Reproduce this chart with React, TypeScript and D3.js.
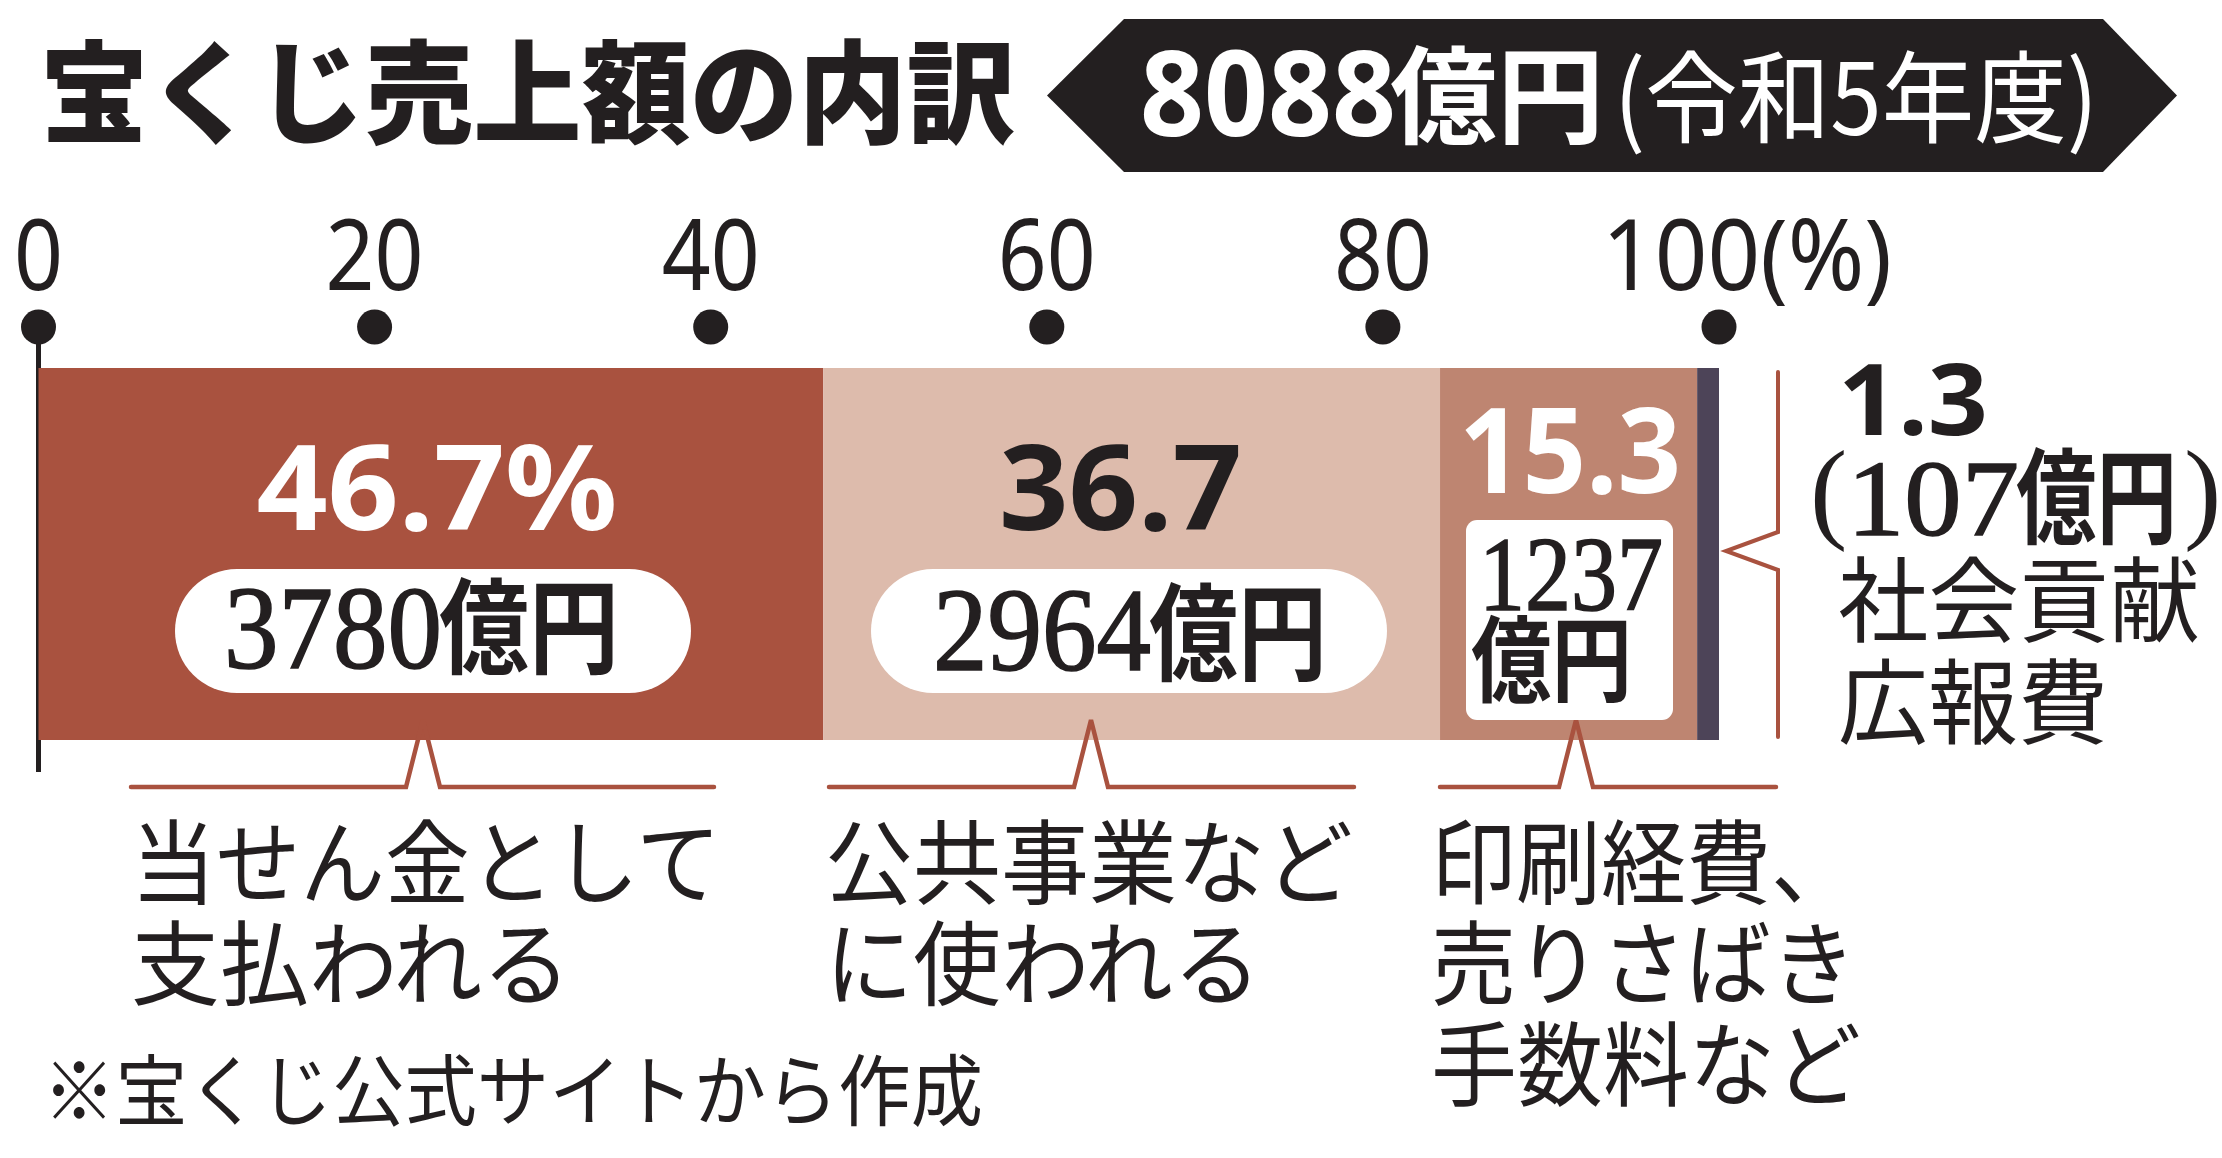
import React from 'react';
import * as d3 from 'd3';

// ---- data ----
const categories = ['当せん金として支払われる', '公共事業などに使われる', '印刷経費、売りさばき手数料など', '社会貢献広報費'];
const shares = [46.7, 36.7, 15.3, 1.3];
const amounts = [3780, 2964, 1237, 107];
const shareLabels = ['46.7%', '36.7', '15.3', '1.3'];
const tickValues = [0, 20, 40, 60, 80, 100];
const tickLabels = ['0', '20', '40', '60', '80', '100(%)'];
const totalAmount = 8088;
const fiscalYear = '令和5年度';
const labelLines = [
  ['当せん金として', '支払われる'],
  ['公共事業など', 'に使われる'],
  ['印刷経費、', '売りさばき', '手数料など'],
  ['社会貢献', '広報費'],
];
const titleText = '宝くじ売上額の内訳';
const sourceNote = '※宝くじ公式サイトから作成';

// ---- styles ----
const segColors = ['#A9523F', '#DDBBAC', '#BE8571', '#4D4458'];
const ACCENT = '#A9523F';
const INK = '#231F20';
const CJK = '"Noto Sans CJK JP", "Noto Sans CJK SC", sans-serif';
const SANS = '"Noto Sans", "Open Sans", sans-serif';
const SERIF = '"Liberation Serif", "DejaVu Serif", serif';

type TP = {
  x: number; y: number; s: number; w?: number; f?: string; fill?: string;
  anchor?: 'start' | 'middle' | 'end'; len?: number; sw?: number; children: React.ReactNode;
};
const T = ({ x, y, s, w = 400, f = CJK, fill = INK, anchor = 'start', len, sw, children }: TP) => (
  <text
    x={x}
    y={y}
    fontSize={s}
    fontWeight={w}
    fontFamily={f}
    fill={fill}
    stroke={sw ? fill : undefined}
    strokeWidth={sw}
    textAnchor={anchor}
    textLength={len}
    lengthAdjust={len ? 'spacingAndGlyphs' : undefined}
  >
    {children}
  </text>
);

export default function App() {
  const W = 2222;
  const H = 1158;
  const x = d3.scaleLinear().domain([0, 100]).range([38.5, 1719]);
  const barTop = 368;
  const barBottom = 740;
  const dotY = 327;

  const starts = d3.cumsum([0, ...shares.slice(0, -1)]);
  const segs = shares.map((v, i) => ({ v, x0: x(starts[i]), x1: x(starts[i] + v), i }));

  // bracket layout (annotation positions)
  const brY = 787;
  const brPeak = 720;
  const brackets = [
    { a: 131, b: 714, n: 423 },
    { a: 829, b: 1354, n: 1091 },
    { a: 1440, b: 1776, n: 1576 },
  ];
  const bracketPath = (a: number, b: number, n: number) =>
    `M${a},${brY} L${n - 17},${brY} L${n},${brPeak} L${n + 17},${brY} L${b},${brY}`;

  const lineX = [131, 825, 1431];
  const lineBase = [897, 998, 1099];
  const lineLen = [
    [590, 440],
    [528, 436],
    [425, 425, 430],
  ];

  const fmt = (n: number) => `${n}`;

  return (
    <svg
      width={W}
      height={H}
      viewBox={`0 0 ${W} ${H}`}
      style={{ position: 'absolute', left: 0, top: 0, display: 'block', background: '#fff' }}
    >
      <rect x={0} y={0} width={W} height={H} fill="#fff" />

      {/* title */}
      <T x={40} y={135} s={112} w={900} len={975}>{titleText}</T>

      {/* banner */}
      <path d="M1047,95.5 L1124,19 L2103,19 L2177,95.5 L2103,172 L1124,172 Z" fill={INK} />
      <T x={1140} y={136} s={118} w={700} f={SANS} fill="#fff" len={256}>{fmt(totalAmount)}</T>
      <T x={1390} y={135} s={106} w={700} fill="#fff" len={214}>億円</T>
      <T x={1614} y={135} s={100} w={400} fill="#fff" len={484}>{`(${fiscalYear})`}</T>

      {/* axis ticks */}
      {tickValues.map((t) => (
        <circle key={`d${t}`} cx={x(t)} cy={dotY} r={17.5} fill={INK} />
      ))}
      {tickValues.map((t, i) =>
        i === tickValues.length - 1 ? (
          <T key={`t${t}`} x={1602} y={290} s={98} f={SANS} len={290}>{tickLabels[i]}</T>
        ) : (
          <T key={`t${t}`} x={x(t)} y={290} s={98} f={SANS} anchor="middle" len={tickLabels[i].length * 49}>
            {tickLabels[i]}
          </T>
        )
      )}
      <line x1={x(0)} x2={x(0)} y1={dotY} y2={772} stroke={INK} strokeWidth={5} />

      {/* bars */}
      {segs.map((s) => (
        <rect key={s.i} x={s.x0} y={barTop} width={s.x1 - s.x0} height={barBottom - barTop} fill={segColors[s.i]} />
      ))}

      {/* bottom brackets */}
      {brackets.map((b, i) => (
        <path
          key={`b${i}`}
          d={bracketPath(b.a, b.b, b.n)}
          fill="none"
          stroke={ACCENT}
          strokeWidth={4.5}
          strokeLinecap="round"
          strokeLinejoin="miter"
        />
      ))}

      {/* segment 1 */}
      <T x={(segs[0].x0 + segs[0].x1) / 2 + 6} y={530} s={119} w={700} f={SANS} fill="#fff" anchor="middle" len={361}>
        {shareLabels[0]}
      </T>
      <rect x={175} y={569} width={516} height={124} rx={62} fill="#fff" />
      <T x={224} y={668} s={118} f={SERIF} len={218} sw={1.6}>{fmt(amounts[0])}</T>
      <T x={439} y={666} s={104} w={700} len={180}>億円</T>

      {/* segment 2 */}
      <T x={1120.5} y={530} s={119} w={700} f={SANS} anchor="middle" len={243}>
        {shareLabels[1]}
      </T>
      <rect x={871} y={569} width={516} height={124} rx={62} fill="#fff" />
      <T x={933} y={670} s={118} f={SERIF} len={218} sw={1.6}>{fmt(amounts[1])}</T>
      <T x={1149} y={672} s={106} w={700} len={178}>億円</T>

      {/* segment 3 */}
      <T x={1570} y={493} s={119} w={700} f={SANS} fill="#fff" anchor="middle" len={222}>
        {shareLabels[2]}
      </T>
      <rect x={1466} y={520} width={207} height={200} rx={11} fill="#fff" />
      <T x={1479} y={610} s={106} f={SERIF} len={184} sw={1.6}>{fmt(amounts[2])}</T>
      <T x={1471} y={695} s={94} w={700} len={161}>億円</T>

      {/* segment 4 annotation */}
      <path
        d={`M1778,372 L1778,532 L1726,551 L1778,570 L1778,737`}
        fill="none"
        stroke={ACCENT}
        strokeWidth={4}
        strokeLinecap="round"
      />
      <T x={1838} y={435} s={98} w={700} f={SANS} len={150}>{shareLabels[3]}</T>
      <T x={1810} y={528} s={112} f={SERIF}>(</T>
      <T x={1847} y={535} s={108} f={SERIF} len={172} sw={1.4}>{fmt(amounts[3])}</T>
      <T x={2016} y={536} s={104} w={700} len={161}>億円</T>
      <T x={2184} y={528} s={112} f={SERIF}>)</T>
      <T x={1838} y={635} s={93} len={362}>{labelLines[3][0]}</T>
      <T x={1838} y={737} s={93} len={270}>{labelLines[3][1]}</T>

      {/* bottom labels */}
      {labelLines.slice(0, 3).map((lines, gi) =>
        lines.map((ln, li) => (
          <T key={`l${gi}-${li}`} x={lineX[gi]} y={lineBase[li]} s={92} len={lineLen[gi][li]}>
            {ln}
          </T>
        ))
      )}

      {/* source note */}
      <T x={43} y={1120} s={78} len={940}>{sourceNote}</T>
      <desc>{categories.join(' / ')}</desc>
    </svg>
  );
}
